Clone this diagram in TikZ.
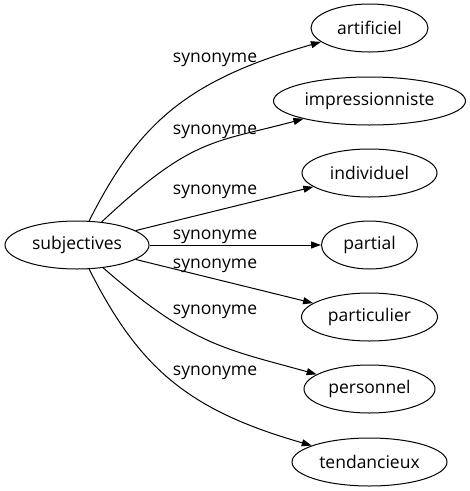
\documentclass[tikz,border=0pt]{standalone}
\usepackage{fontspec}
\setmainfont{Open Sans}
\usetikzlibrary{shapes.geometric,arrows.meta}
\begin{document}
\begin{tikzpicture}[x=1pt,y=-1pt,
  every node/.style={font=\fontsize{17.5}{20}\selectfont, text=black},
  term/.style={draw, ellipse, line width=1pt, inner sep=0pt, minimum height=48pt},
  lbl/.style={inner sep=0pt},
  syn/.style={line width=1pt, -{Triangle[length=10pt,width=7pt]}}]
\useasboundingbox (0,0) rectangle (470,491);
% nodes
\node[term, minimum width=144pt] (s)  at (77,245)    {subjectives};
\node[term, minimum width=117pt] (t1) at (369.5,28)  {artificiel};
\node[term, minimum width=192pt] (t2) at (369.5,101) {impressionniste};
\node[term, minimum width=135pt] (t3) at (369.5,173) {individuel};
\node[term, minimum width=96pt]  (t4) at (369.5,245) {partial};
\node[term, minimum width=136pt] (t5) at (369.5,317) {particulier};
\node[term, minimum width=131pt] (t6) at (369.5,389) {personnel};
\node[term, minimum width=155pt] (t7) at (369.5,462) {tendancieux};
% labels
\node[lbl] (l1) at (215,60)  {synonyme};
\node[lbl] (l2) at (215,132) {synonyme};
\node[lbl] (l3) at (215,192) {synonyme};
\node[lbl] (l4) at (215,237) {synonyme};
\node[lbl] (l5) at (215,266) {synonyme};
\node[lbl] (l6) at (215,312) {synonyme};
\node[lbl] (l7) at (215,373) {synonyme};
% edges
\draw[syn] (s) .. controls (139,122) and (188,80) .. (t1);
\draw[syn] (s) .. controls (193,136.5) and (214,143) .. (t2);
\draw[syn] (s) -- (t3);
\draw[syn] (s) -- (t4);
\draw[syn] (s) -- (t5);
\draw[syn] (s) .. controls (192,345.4) and (225,348.9) .. (t6);
\draw[syn] (s) .. controls (139,368) and (188,410.2) .. (t7);
\end{tikzpicture}
\end{document}
